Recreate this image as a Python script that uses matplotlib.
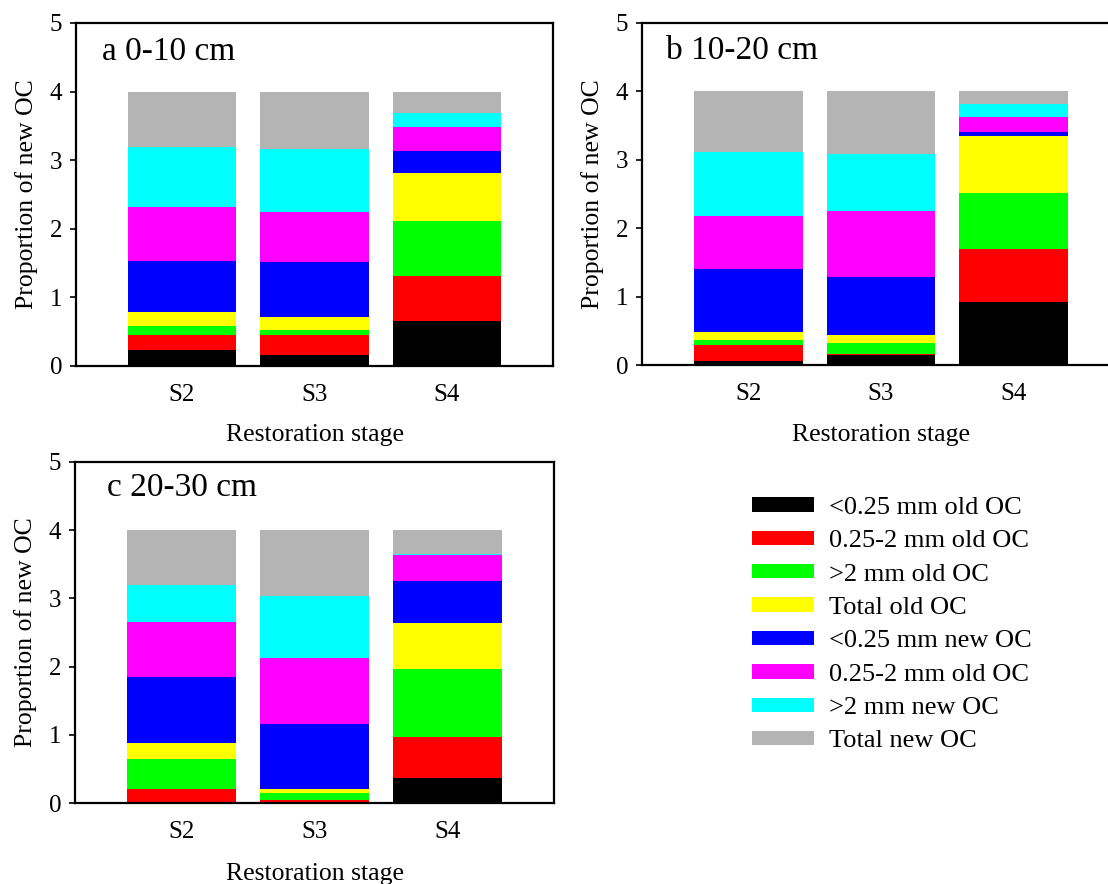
import matplotlib
matplotlib.use("Agg")
import matplotlib.pyplot as plt
from matplotlib.patches import Patch

plt.rcParams['font.family'] = ['Liberation Serif', 'DejaVu Serif']

stages = ["S2", "S3", "S4"]
series_labels = ["<0.25 mm old OC", "0.25-2 mm old OC", ">2 mm old OC", "Total old OC",
                 "<0.25 mm new OC", "0.25-2 mm old OC", ">2 mm new OC", "Total new OC"]
series_colors = ["#000000", "#ff0000", "#00ff00", "#ffff00",
                 "#0000ff", "#ff00ff", "#00ffff", "#b4b4b4"]

# segment heights, one row per series, columns S2, S3, S4
panel_a_values = [
    [0.23, 0.16, 0.66],
    [0.22, 0.29, 0.65],
    [0.13, 0.08, 0.81],
    [0.20, 0.18, 0.70],
    [0.75, 0.81, 0.32],
    [0.79, 0.73, 0.35],
    [0.87, 0.91, 0.20],
    [0.81, 0.84, 0.31],
]
panel_b_values = [
    [0.06, 0.14, 0.92],
    [0.23, 0.02, 0.77],
    [0.08, 0.16, 0.82],
    [0.11, 0.12, 0.84],
    [0.92, 0.84, 0.06],
    [0.78, 0.97, 0.22],
    [0.93, 0.84, 0.19],
    [0.89, 0.91, 0.18],
]
panel_c_values = [
    [0.00, 0.02, 0.36],
    [0.20, 0.03, 0.61],
    [0.45, 0.10, 1.00],
    [0.23, 0.05, 0.67],
    [0.97, 0.96, 0.62],
    [0.80, 0.97, 0.38],
    [0.55, 0.90, 0.01],
    [0.80, 0.97, 0.35],
]
panel_titles = ["a 0-10 cm", "b 10-20 cm", "c 20-30 cm"]

W, H = 1108, 884
fig = plt.figure(figsize=(W / 100, H / 100), dpi=100)

def px_axes(left, top, right, bottom):
    return fig.add_axes([left / W, 1 - bottom / H, (right - left) / W, (bottom - top) / H])

ax_a = px_axes(76, 23, 553, 366)
ax_b = px_axes(642, 23, 1120, 365)
ax_c = px_axes(75, 462, 554, 803)

x = [1, 2, 3]
specs = [
    (ax_a, panel_a_values, panel_titles[0], (0.055, 0.915), 435),
    (ax_b, panel_b_values, panel_titles[1], (0.05, 0.92), 435),
    (ax_c, panel_c_values, panel_titles[2], (0.067, 0.924), 874),
]
for ax, vals, title, tpos, xlab_y in specs:
    bottoms = [0.0, 0.0, 0.0]
    for row, color in zip(vals, series_colors):
        ax.bar(x, row, width=0.82, bottom=bottoms, color=color, edgecolor='none', linewidth=0)
        bottoms = [b + v for b, v in zip(bottoms, row)]
    ax.set_xlim(0.2, 3.8)
    ax.set_ylim(0, 5)
    ax.set_yticks([0, 1, 2, 3, 4, 5])
    ax.set_xticks(x)
    ax.set_xticklabels(stages)
    ax.tick_params(axis='x', length=0, pad=13, labelsize=18)
    ax.tick_params(axis='y', direction='out', length=4, width=1.2, pad=6, labelsize=18)
    for sp in ax.spines.values():
        sp.set_linewidth(1.6)
    ax.set_ylabel("Proportion of new OC", fontsize=18.5, labelpad=8)
    ax.set_xlabel("Restoration stage", fontsize=18.5)
    pos = ax.get_position()
    ax.xaxis.set_label_coords(0.5, ((H - xlab_y) / H - pos.y0) / pos.height)
    ax.xaxis.label.set_va('center')
    ax.text(tpos[0], tpos[1], title, transform=ax.transAxes, ha='left', va='center', fontsize=24)

handles = [Patch(facecolor=c, edgecolor='none') for c in series_colors]
fig.legend(handles, series_labels, loc='upper left', bbox_to_anchor=(752 / W, 1 - 497 / H),
           frameon=False, fontsize=19, handlelength=2.35, handleheight=0.46,
           handletextpad=0.55, labelspacing=0.43, borderpad=0, borderaxespad=0)

fig.savefig("out.png", dpi=100)
